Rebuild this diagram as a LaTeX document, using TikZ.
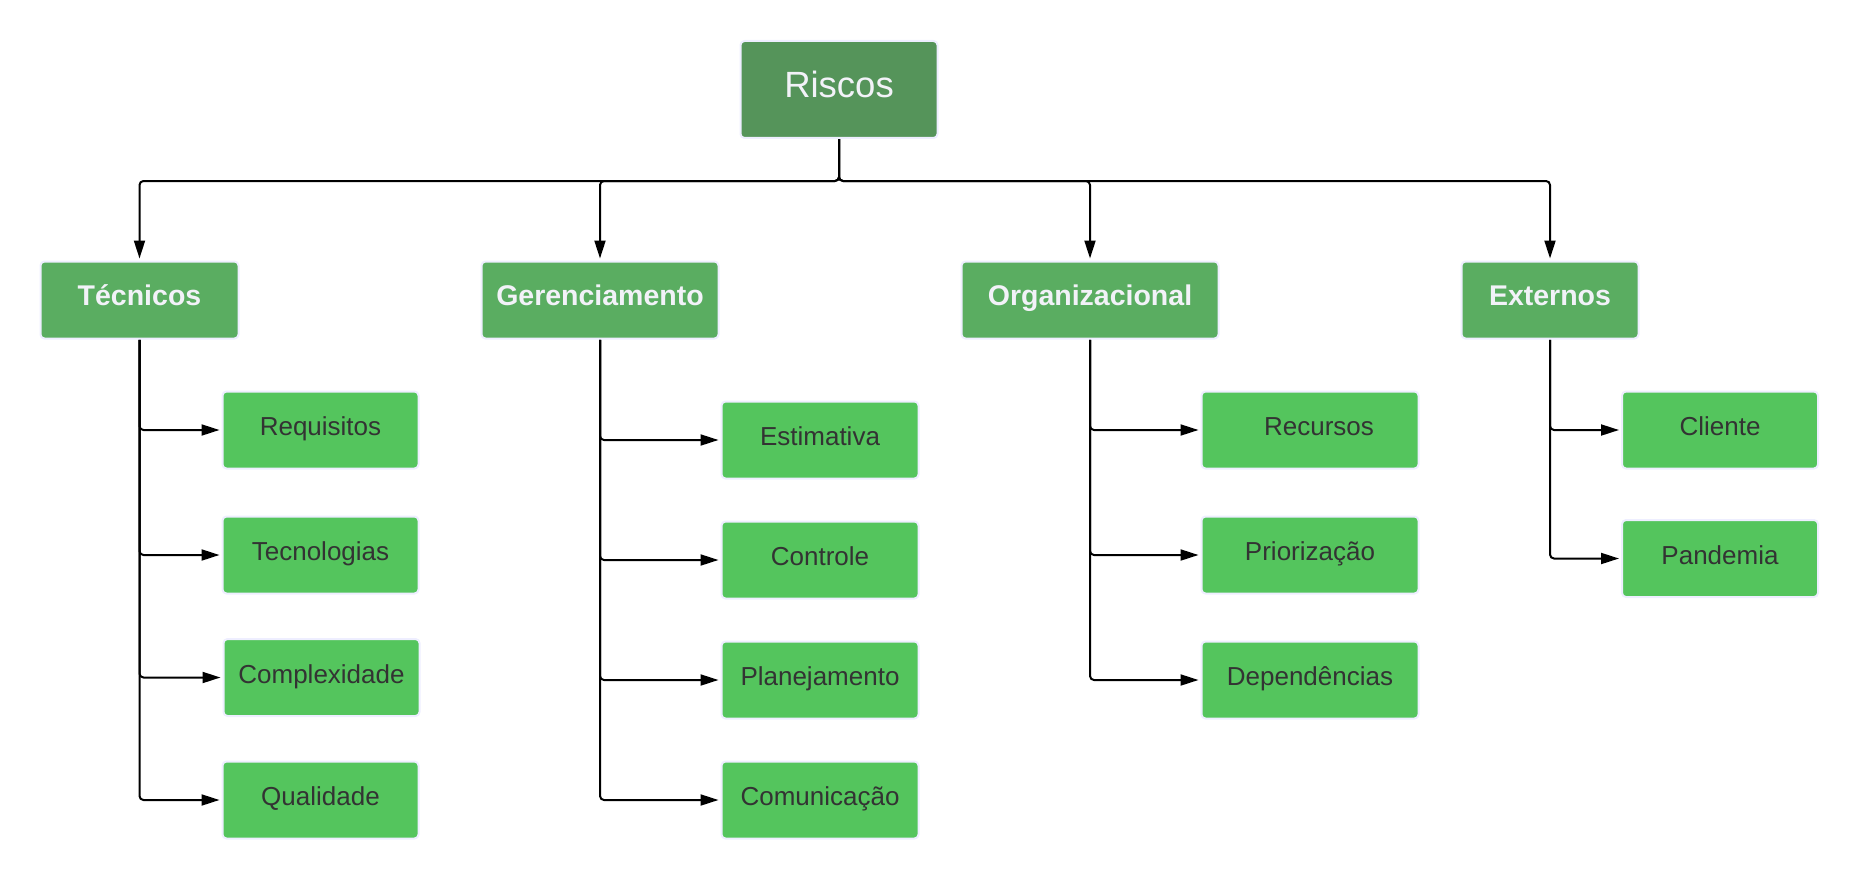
\documentclass[tikz,border=0pt]{standalone}
\usepackage{fontspec}
\setmainfont{Liberation Sans}
\usepackage{tikz}
\usetikzlibrary{arrows.meta}
\pgfdeclarelayer{edgelayer}
\pgfdeclarelayer{nodelayer}
\pgfsetlayers{edgelayer,nodelayer,main}
\definecolor{rootgreen}{RGB}{85,148,90}
\definecolor{catgreen}{RGB}{90,173,97}
\definecolor{leafgreen}{RGB}{84,197,93}
\definecolor{boxline}{RGB}{238,238,255}
\definecolor{leaftext}{RGB}{51,51,51}
\definecolor{lighttext}{RGB}{242,242,248}
\tikzstyle{box}=[draw=boxline, line width=2pt, rounded corners=4pt, inner sep=0pt, minimum height=77pt]
\tikzstyle{root}=[box, fill=rootgreen, text=lighttext, minimum width=197pt, minimum height=97pt, text height=26pt, text depth=10pt, font=\fontsize{36.5}{44}\selectfont]
\tikzstyle{category}=[box, fill=catgreen, text=lighttext, text height=20.5pt, text depth=10pt, font=\bfseries\fontsize{28.5}{34}\selectfont]
\tikzstyle{leaf}=[box, fill=leafgreen, text=leaftext, text height=18.6pt, text depth=7pt, font=\fontsize{26}{31}\selectfont]
\tikzstyle{link}=[line width=2pt, rounded corners=4pt, -{Triangle[length=18pt,width=11pt]}, shorten >=2pt]

\begin{document}
\begin{tikzpicture}[x=1pt, y=-1pt]
	\useasboundingbox (0, 0) rectangle (1860, 880);
	\begin{pgfonlayer}{nodelayer}
		\node [style=root] (riscos) at (839, 89.5) {Riscos};
		\node [style=category, minimum width=198pt] (tecnicos) at (139.5, 300) {Técnicos};
		\node [style=category, minimum width=237pt] (gerenc) at (600, 300) {Gerenciamento};
		\node [style=category, minimum width=257pt] (organiz) at (1090, 300) {Organizacional};
		\node [style=category, minimum width=177pt] (externos) at (1550, 300) {Externos};
		% Técnicos
		\node [style=leaf, minimum width=196pt] (requisitos) at (320.5, 430) {Requisitos};
		\node [style=leaf, minimum width=196pt] (tecnologias) at (320.5, 555) {Tecnologias};
		\node [style=leaf, minimum width=196pt] (complex) at (321.5, 677.5) {Complexidade};
		\node [style=leaf, minimum width=196pt] (qualidade) at (320.5, 800) {Qualidade};
		% Gerenciamento
		\node [style=leaf, minimum width=197pt] (estimativa) at (820, 440) {Estimativa};
		\node [style=leaf, minimum width=197pt] (controle) at (820, 560) {Controle};
		\node [style=leaf, minimum width=197pt] (planej) at (820, 680) {Planejamento};
		\node [style=leaf, minimum width=197pt] (comunic) at (820, 800) {Comunicação};
		% Organizacional
		\node [style=leaf, minimum width=217pt] (recursos) at (1310, 430) {\hspace{18pt}Recursos};
		\node [style=leaf, minimum width=217pt] (prioriz) at (1310, 555) {Priorização};
		\node [style=leaf, minimum width=217pt] (depend) at (1310, 680) {Dependências};
		% Externos
		\node [style=leaf, minimum width=196pt] (cliente) at (1720, 430) {Cliente};
		\node [style=leaf, minimum width=196pt] (pandemia) at (1720, 558.5) {Pandemia};
	\end{pgfonlayer}
	\begin{pgfonlayer}{edgelayer}
		\draw [style=link] (riscos.south) -- ++(0, 42) -| (tecnicos.north);
		\draw [style=link] (riscos.south) -- ++(0, 42) -| (gerenc.north);
		\draw [style=link] (riscos.south) -- ++(0, 42) -| (organiz.north);
		\draw [style=link] (riscos.south) -- ++(0, 42) -| (externos.north);
		\draw [style=link] (tecnicos.south) |- (requisitos.west);
		\draw [style=link] (tecnicos.south) |- (tecnologias.west);
		\draw [style=link] (tecnicos.south) |- (complex.west);
		\draw [style=link] (tecnicos.south) |- (qualidade.west);
		\draw [style=link] (gerenc.south) |- (estimativa.west);
		\draw [style=link] (gerenc.south) |- (controle.west);
		\draw [style=link] (gerenc.south) |- (planej.west);
		\draw [style=link] (gerenc.south) |- (comunic.west);
		\draw [style=link] (organiz.south) |- (recursos.west);
		\draw [style=link] (organiz.south) |- (prioriz.west);
		\draw [style=link] (organiz.south) |- (depend.west);
		\draw [style=link] (externos.south) |- (cliente.west);
		\draw [style=link] (externos.south) |- (pandemia.west);
	\end{pgfonlayer}
\end{tikzpicture}
\end{document}
